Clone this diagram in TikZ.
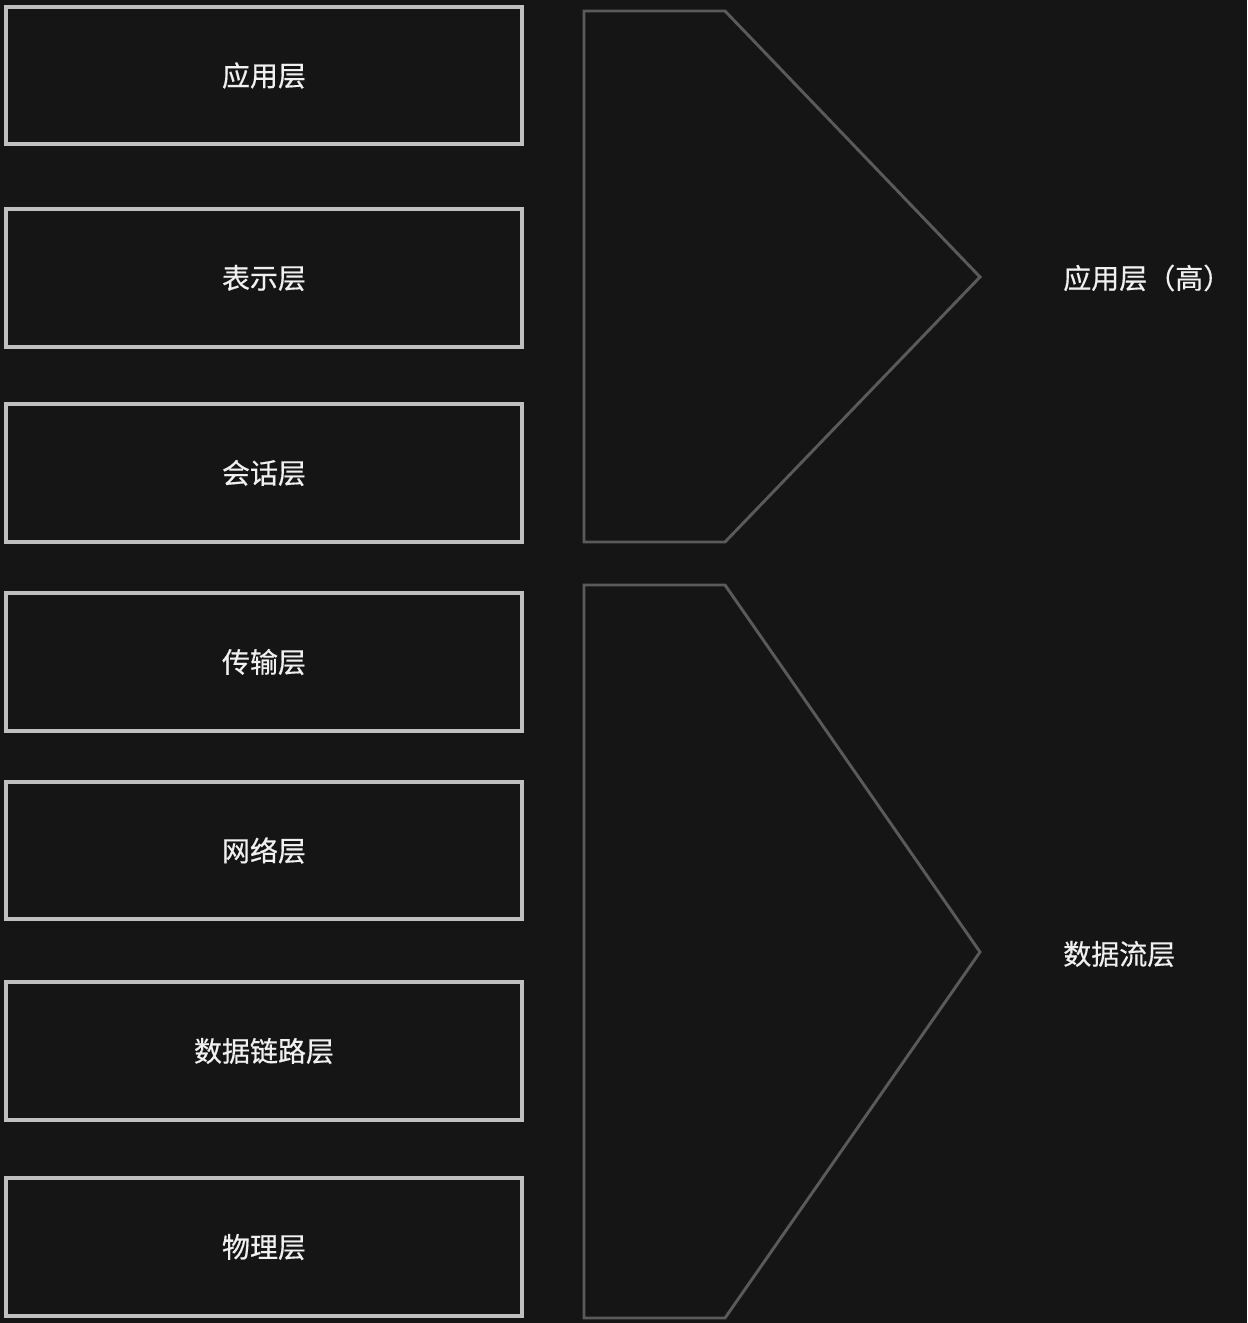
\documentclass[tikz,border=0pt]{standalone}
\usepackage{fontspec}
\setmainfont[FakeBold=0.5]{Noto Sans CJK SC}
\definecolor{bgdark}{HTML}{151515}
\definecolor{boxline}{HTML}{C0C0C0}
\definecolor{chevline}{HTML}{5A5A5A}
\definecolor{txtlight}{HTML}{F0F0F0}
\begin{document}
\begin{tikzpicture}[
    x=0.75pt, y=-0.75pt,
    every node/.style={font=\fontsize{21}{25}\selectfont, text=txtlight},
    layer/.style={draw=boxline, line width=3pt, fill=bgdark,
                  minimum width=387pt, minimum height=103pt,
                  inner sep=0pt, outer sep=0pt},
    chev/.style={draw=chevline, line width=2.2pt, line join=miter},
    grp/.style={anchor=west, inner sep=0pt},
]
% ── Fondo ──
\fill[bgdark] (0,0) rectangle (1247,1323);
\useasboundingbox (0,0) rectangle (1247,1323);

% ── Capas OSI ──
\node[layer] (app)  at (264,75.5)   {应用层};
\node[layer] (pres) at (264,278)    {表示层};
\node[layer] (sess) at (264,473)    {会话层};
\node[layer] (trans) at (264,662)   {传输层};
\node[layer] (net)  at (264,850.5)  {网络层};
\node[layer] (link) at (264,1051)   {数据链路层};
\node[layer] (phys) at (264,1247)   {物理层};

% ── Agrupaciones ──
\draw[chev] (584,11) -- (725,11) -- (980,277) -- (725,542) -- (584,542) -- cycle;
\draw[chev] (584,585) -- (725,585) -- (980,952) -- (725,1318) -- (584,1318) -- cycle;

\node[grp] (high) at (1063,278) {应用层（高）};
\node[grp] (flow) at (1063,954) {数据流层};
\end{tikzpicture}
\end{document}
